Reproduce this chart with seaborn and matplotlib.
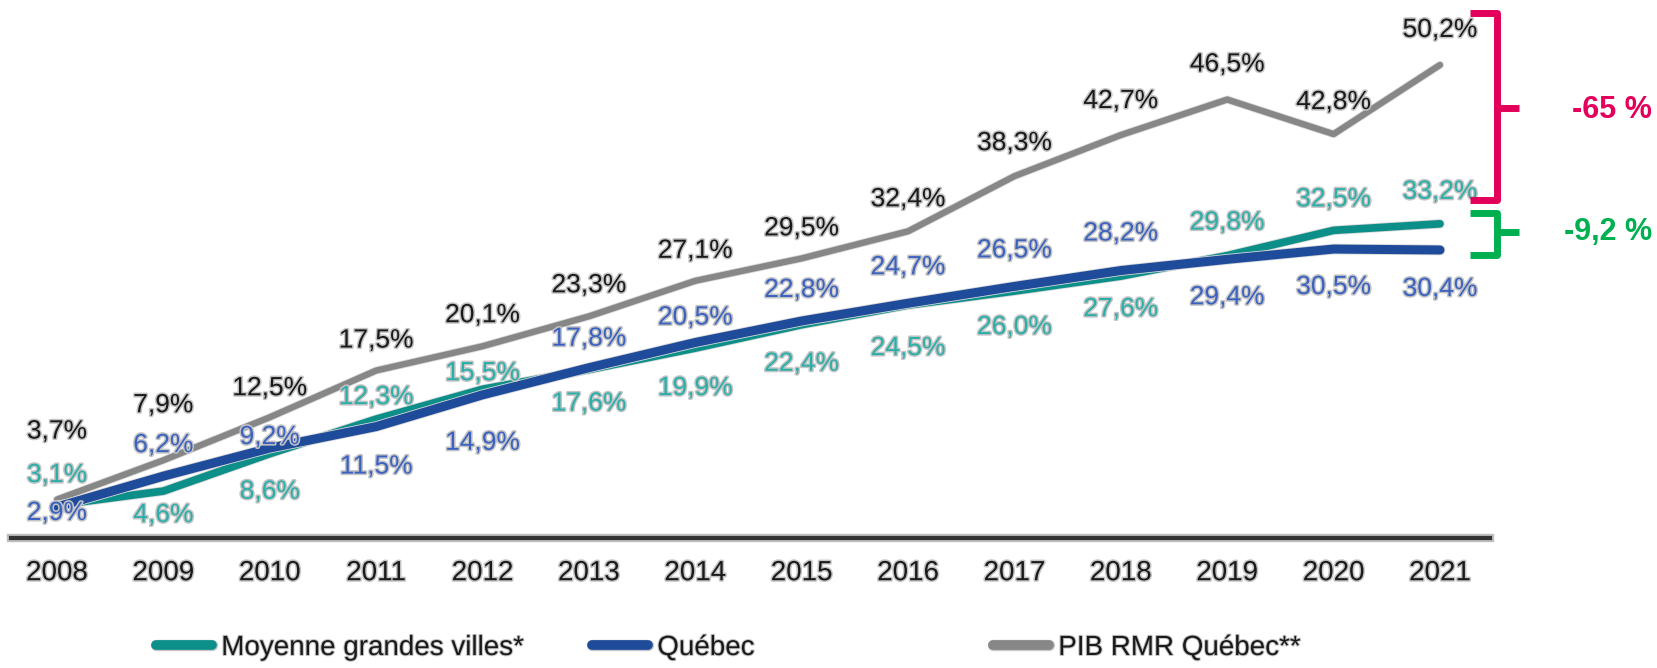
import matplotlib
matplotlib.use('Agg')
import matplotlib.pyplot as plt
import matplotlib.patheffects as pe
from matplotlib.lines import Line2D
import pandas as pd
import seaborn as sns

# données (%)
annees = list(range(2008, 2022))
moyenne = [3.1, 4.6, 8.6, 12.3, 15.5, 17.6, 19.9, 22.4, 24.5, 26.0, 27.6, 29.8, 32.5, 33.2]
quebec = [2.9, 6.2, 9.2, 11.5, 14.9, 17.8, 20.5, 22.8, 24.7, 26.5, 28.2, 29.4, 30.5, 30.4]
pib = [3.7, 7.9, 12.5, 17.5, 20.1, 23.3, 27.1, 29.5, 32.4, 38.3, 42.7, 46.5, 42.8, 50.2]
noms = ['Moyenne grandes villes*', 'Québec', 'PIB RMR Québec**']
ecarts = ['-65 %', '-9,2 %']

# placement des étiquettes (pixels, vers le haut)
dy_moyenne = [30, -24, -38, 22, 16, -34, -40, -39, -43, -36, -33, 33, 31, 32]
dy_quebec = [-6, 31, 11, -40, -48, 29, 25, 31, 36, 36, 37, -38, -38, -39]
dy_pib = [68, 55, 29, 30, 31, 31, 30, 30, 32, 33, 34, 35, 32, 35]

sns.set_style('white')
plt.rcParams['font.family'] = ['Liberation Sans', 'DejaVu Sans']

W, H = 1657, 668
fig = plt.figure(figsize=(W / 100, H / 100), dpi=100)
ax = fig.add_axes([0, (H - 538) / H, 1, 538 / H])

df = pd.DataFrame({
    'annee': annees * 3,
    'valeur': pib + moyenne + quebec,
    'serie': [noms[2]] * 14 + [noms[0]] * 14 + [noms[1]] * 14,
})
couleurs = {noms[0]: '#0b8f88', noms[1]: '#1f4b9b', noms[2]: '#878787'}
sns.lineplot(data=df, x='annee', y='valeur', hue='serie',
             hue_order=[noms[2], noms[0], noms[1]], palette=couleurs,
             legend=False, ax=ax)

largeurs = [4.5, 5.5, 6.5]
for ln, lw in zip(ax.lines, largeurs):
    ln.set_linewidth(lw)
    ln.set_solid_capstyle('round')
    ln.set_solid_joinstyle('round')
    ln.set_path_effects([pe.Stroke(linewidth=lw + 1.2, foreground='#d8d8d8'), pe.Normal()])
ligne_pib, ligne_moy, ligne_qc = ax.lines[0], ax.lines[1], ax.lines[2]

ax.set_xlim(2008 - 0.536, 2008 + 15.04)
ax.set_ylim(-0.42, 57.15)

# étiquettes de valeurs
contour = [pe.withStroke(linewidth=2.2, foreground='#c4c4c4')]
series = [(pib, dy_pib, '#1a1a1a'), (moyenne, dy_moyenne, '#2aaea8'), (quebec, dy_quebec, '#3b62c0')]
for vals, dys, coul in series:
    for x, v, dy in zip(annees, vals, dys):
        ax.annotate(f'{v:.1f}%'.replace('.', ','), (x, v), xytext=(0, dy),
                    textcoords='offset pixels', ha='center', va='center',
                    fontsize=19, color=coul, path_effects=contour)

# axe
for s in ['top', 'right', 'left']:
    ax.spines[s].set_visible(False)
ax.spines['bottom'].set_bounds(2008 - 0.43, 2008 + 13.47)
ax.spines['bottom'].set_linewidth(3)
ax.spines['bottom'].set_color('#333333')
ax.spines['bottom'].set_path_effects([pe.Stroke(linewidth=6, foreground='#bdbdbd'), pe.Normal()])
ax.set_yticks([])
ax.set_xticks(annees)
ax.set_xticklabels([str(a) for a in annees])
ax.tick_params(axis='x', length=0, pad=16, labelsize=20, labelcolor='#1a1a1a')
for t in ax.get_xticklabels():
    t.set_path_effects(contour)
ax.set_xlabel('')
ax.set_ylabel('')

# légendes
pos_leg = [156, 592, 993]
for ln, nom, xp in zip([ligne_moy, ligne_qc, ligne_pib], noms, pos_leg):
    h = Line2D([], [], color=ln.get_color(), linewidth=7, solid_capstyle='round',
               path_effects=[pe.Stroke(linewidth=8.2, foreground='#c8c8c8'), pe.Normal()])
    leg = fig.legend([h], [nom], loc='center left', bbox_to_anchor=(xp / W, 1 - 648 / H),
                     frameon=False, fontsize=20, handlelength=2.0, handletextpad=0.35,
                     borderpad=0, borderaxespad=0)
    for t in leg.get_texts():
        t.set_color('#1a1a1a')
        t.set_path_effects([pe.withStroke(linewidth=1.5, foreground='#c4c4c4')])


def px(x, y):
    return x / W, 1 - y / H


def accolade(y0, y1, ym, coul):
    xs = [1470, 1497, 1497, 1470]
    ys = [y0, y0, y1, y1]
    fx = [px(a, b)[0] for a, b in zip(xs, ys)]
    fy = [px(a, b)[1] for a, b in zip(xs, ys)]
    fig.add_artist(Line2D(fx, fy, color=coul, linewidth=5, solid_joinstyle='round',
                          solid_capstyle='butt'))
    fig.add_artist(Line2D([px(1497, ym)[0], px(1519, ym)[0]], [px(1497, ym)[1]] * 2,
                          color=coul, linewidth=5, solid_capstyle='butt'))


rose = '#e2005a'
vert = '#00b050'
accolade(13, 200, 108, rose)
accolade(213, 255, 232, vert)
fig.text(*px(1612, 110), ecarts[0], color=rose, fontsize=22, fontweight='bold', ha='center', va='center')
fig.text(*px(1608, 232), ecarts[1], color=vert, fontsize=22, fontweight='bold', ha='center', va='center')

fig.savefig('out.png', dpi=100)
